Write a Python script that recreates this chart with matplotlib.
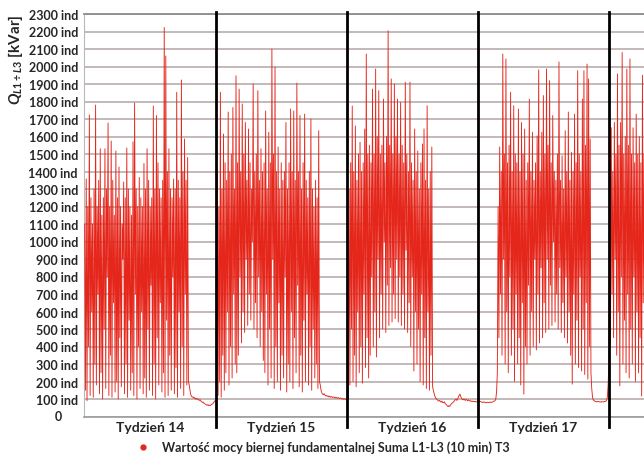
import numpy as np
import matplotlib
matplotlib.use("Agg")
import matplotlib.pyplot as plt
from matplotlib.lines import Line2D
from matplotlib.transforms import blended_transform_factory

plt.rcParams['font.family'] = ['Lato', 'DejaVu Sans']
plt.rcParams['mathtext.fontset'] = 'custom'
plt.rcParams['mathtext.it'] = 'Lato:italic:bold'
plt.rcParams['mathtext.rm'] = 'Lato:bold'

# hourly values, one week = 168 h
week_names = ["Tydzień 14", "Tydzień 15", "Tydzień 16", "Tydzień 17"]
hours_per_week = 168

# week 14
pre14 = []
peaks14 = [1100, 1357, 1200, 1723, 1250, 1100, 1300, 1780, 1200, 1350,
           1530, 1150, 1250, 1530, 1300, 1677, 1200, 1574, 1350, 1150,
           1517, 1250, 1426, 1200, 1100, 1340, 1250, 1534, 1300, 1200,
           1150, 1570, 1791, 1300, 1200, 1366, 1250, 1200, 1446, 1300,
           1530, 1350, 1200, 1250, 1774, 1300, 1720, 1450, 1300, 1250,
           1350, 2223, 2060, 1400, 1530, 1300, 1250, 1357, 1300, 1853,
           1350, 1250, 1923, 1400, 1586, 1350, 1480]
troughs14 = [150, 90, 400, 120, 600, 110, 300, 180, 700, 130,
             250, 100, 500, 160, 800, 120, 350, 110, 650, 140,
             200, 100, 450, 170, 900, 130, 300, 110, 550, 150,
             250, 120, 700, 100, 400, 160, 600, 130, 220, 110,
             500, 150, 750, 120, 300, 100, 450, 180, 650, 140,
             250, 110, 550, 120, 350, 150, 800, 130, 280, 110,
             600, 160, 400, 120, 700, 180, 200]
rest14 = [180, 150, 125, 115, 110, 112, 105, 108, 100, 104,
          98, 102, 95, 92, 96, 88, 85, 80, 82, 75,
          72, 70, 66, 64, 68, 62, 65, 63, 67, 70,
          72, 78, 85, 90]

# week 15
pre15 = [88, 95]
peaks15 = [1400, 1200, 1853, 1300, 1614, 1450, 1350, 1740, 1400, 1500,
           1766, 1300, 1947, 1450, 1871, 1400, 1786, 1500, 1680, 1350,
           1643, 1450, 1300, 1900, 1400, 1500, 1862, 1350, 1530, 1400,
           1450, 1746, 1300, 1624, 1450, 2100, 1500, 1996, 1400, 1540,
           1300, 1450, 1350, 1400, 1680, 1300, 1450, 1757, 1400, 1746,
           1350, 1905, 1400, 1720, 1300, 1450, 1728, 1350, 1250, 1400,
           1700, 1300, 1200, 1350, 1250, 1633]
troughs15 = [120, 200, 110, 350, 150,
             250, 600, 180, 400, 220, 700, 300, 250,
             350, 800, 420, 600, 480, 900, 520, 700, 550, 1000,
             500, 650, 450, 800, 400, 600, 320,
             250, 700, 180, 500, 220, 900, 160, 400, 200, 650,
             150, 350, 220, 800, 140, 300,
             200, 600, 160, 450, 250, 750, 170, 350, 140, 550,
             200, 700, 180, 400, 150, 500, 220, 300, 160, 200]
rest15 = [180, 150, 135, 128, 125, 130, 122, 118, 120, 115,
          118, 112, 116, 110, 114, 112, 108, 112, 110, 106,
          110, 108, 104, 108, 105, 102, 106, 104, 100, 103,
          98, 102, 100, 96]

# week 16
pre16 = [95, 100, 110]
peaks16 = [1300, 1450, 1774, 1400, 1660, 1350, 1500, 1567, 1400, 1450,
           1643, 2071, 1500, 1550, 1450, 1871, 1500, 1986, 1600, 1862,
           1500, 1550, 1814, 1450, 1600, 2204, 1550, 1929, 1500, 1900,
           1600, 1814, 1500, 1795, 1550, 1450, 1910, 1500, 1400, 1910,
           1450, 1350, 1643, 1400, 1517, 1300, 1450, 1557, 1643, 1350,
           1776, 1300, 1400, 1540]
troughs16 = [180, 500, 200, 350, 170, 600, 250, 400, 190, 700, 280, 450, 220,
             350, 800, 400, 600, 340, 900, 450, 700, 500, 1000,
             480, 750, 520, 850, 540, 700, 560, 900,
             540, 800, 520, 700, 500, 950, 480, 650, 400, 800,
             260, 600, 300, 500,
             200, 700, 180, 450, 160, 600, 150, 350, 170]
rest16 = [150, 130, 115, 105, 100, 96, 90, 88, 92, 85,
          82, 88, 80, 78, 84, 75, 70, 66, 60, 56,
          62, 58, 66, 72, 76, 80, 85, 90, 95, 100,
          92, 98, 110, 120, 128, 115, 105, 98, 95, 100,
          96, 92, 98, 94, 90, 95, 92, 88, 90, 86,
          88, 85, 87, 84, 86, 83, 85]

# week 17
pre17 = [95, 92, 88, 86, 84, 82, 80, 82, 84, 80,
         78, 80, 82, 80, 79, 81, 83, 80, 82, 84,
         86, 88, 90, 100, 140, 250]
peaks17 = [1200, 1540, 1400, 2071, 1500, 2043, 1450, 1550, 1853, 1400,
           1776, 1500, 1450, 1757, 1400, 1680, 1500, 1643, 1350, 1450,
           1814, 1400, 1624, 1350, 1450, 1603, 1981, 1400, 1624, 1834,
           1500, 1986, 1550, 1919, 1450, 1720, 1400, 1350, 1500, 2026,
           1350, 1490, 1300, 1633, 1400, 1740, 1350, 1509, 1400, 1728,
           1450, 1976, 1500, 1400, 1814, 1976, 1550, 2014, 1929, 1586]
troughs17 = [450, 700, 350, 900, 300,
             600, 250, 800, 350, 500, 200, 700, 300, 450, 180, 650, 128, 400,
             300, 750, 350, 600, 400, 900, 380, 700, 420, 850, 450, 650, 480,
             900, 500, 750, 520, 1000, 540, 700, 500, 850, 480, 650, 450, 800, 420, 600,
             350, 185, 700, 300, 550, 280, 800, 260, 500, 240, 650, 214, 400, 250]
rest17 = [160, 110, 95, 90, 88, 86, 85, 84, 86, 85,
          83, 84, 82, 85, 84, 83, 86, 85, 88, 92,
          110, 180]

# week 18 (only its start is visible)
pre18 = [300]
peaks18 = [1500, 1650, 1400, 1680, 1500, 1957, 1550, 1680, 2080, 1500,
           1600, 1986, 1550, 2043, 1500, 1650, 1450, 1728, 1500, 1600,
           1450, 1950, 1500, 1600]
troughs18 = [400, 700, 450, 900, 350, 600, 175, 800, 300, 550,
             250, 700, 220, 500, 300, 800, 200, 600, 250, 450,
             117, 650, 200, 400]
rest18 = []

weeks = [
    (pre14, peaks14, troughs14, rest14),
    (pre15, peaks15, troughs15, rest15),
    (pre16, peaks16, troughs16, rest16),
    (pre17, peaks17, troughs17, rest17),
    (pre18, peaks18, troughs18, rest18),
]

xs, ys = [], []
for i, (pre, pk, tr, rest) in enumerate(weeks):
    work = np.column_stack([pk, tr]).ravel()
    vals = np.concatenate([pre, work, rest]).astype(float)
    xs.append(i * hours_per_week + np.arange(len(vals)))
    ys.append(vals)
x = np.concatenate(xs)
y = np.concatenate(ys)

red = '#e5261b'
txt = '#262626'

fig = plt.figure(figsize=(6.44, 4.56), dpi=100)
ax = fig.add_axes([83.5 / 644, 1 - 417.5 / 456, 1 - 83.5 / 644, (417.5 - 15) / 456])

ax.plot(x, y, color=red, lw=0.65, zorder=3)

ax.set_ylim(0, 2300)
ax.set_xlim(-1.5, 717)
yt = np.arange(0, 2301, 100)
ax.set_yticks(yt)
ax.set_yticklabels([f"{v} ind" if v > 0 else "" for v in yt],
                   fontsize=9, fontweight='bold', color=txt)
ax.set_xticks([])
ax.tick_params(axis='y', length=0, pad=4)
tr = blended_transform_factory(ax.transAxes, ax.transData)
ax.text(-0.0455, 0, "0", transform=tr, ha='center', va='center',
        fontsize=9, fontweight='bold', color=txt)

ax.grid(axis='y', color='#b3a6a6', lw=1.1)
ax.set_axisbelow(True)
ax.spines['right'].set_visible(False)
ax.spines['top'].set_color('#8c8c8c')
ax.spines['top'].set_linewidth(1.3)
ax.spines['bottom'].set_color('#9c9c9c')
ax.spines['bottom'].set_linewidth(1.2)
ax.spines['left'].set_color('#b8b8b8')

# week separators and labels
for i, name in enumerate(week_names):
    ax.axvline((i + 1) * hours_per_week, ymin=-0.027, ymax=1.005,
               color='black', lw=2, zorder=5, clip_on=False)
    ax.text((i + 0.5) * hours_per_week, -0.027, name,
            transform=blended_transform_factory(ax.transData, ax.transAxes),
            ha='center', va='center', fontsize=10, fontweight='bold', color=txt)

fig.text(16 / 644, 1 - 60 / 456, r"$Q_{L1\div L3}$ [kVar]", rotation=90,
         ha='center', va='center', fontsize=11, fontweight='bold', color=txt)

handle = Line2D([], [], marker='o', linestyle='none', color=red, markersize=3.5)
fig.legend([handle], ["Wartość mocy biernej fundamentalnej Suma L1-L3 (10 min) T3"],
           loc='center left', bbox_to_anchor=(137 / 644, 1 - 448 / 456),
           frameon=False, handlelength=1.0, handletextpad=1.0,
           borderpad=0, borderaxespad=0,
           prop={'size': 9, 'weight': 'bold'}, labelcolor=txt)

fig.savefig("out.png", dpi=100)
